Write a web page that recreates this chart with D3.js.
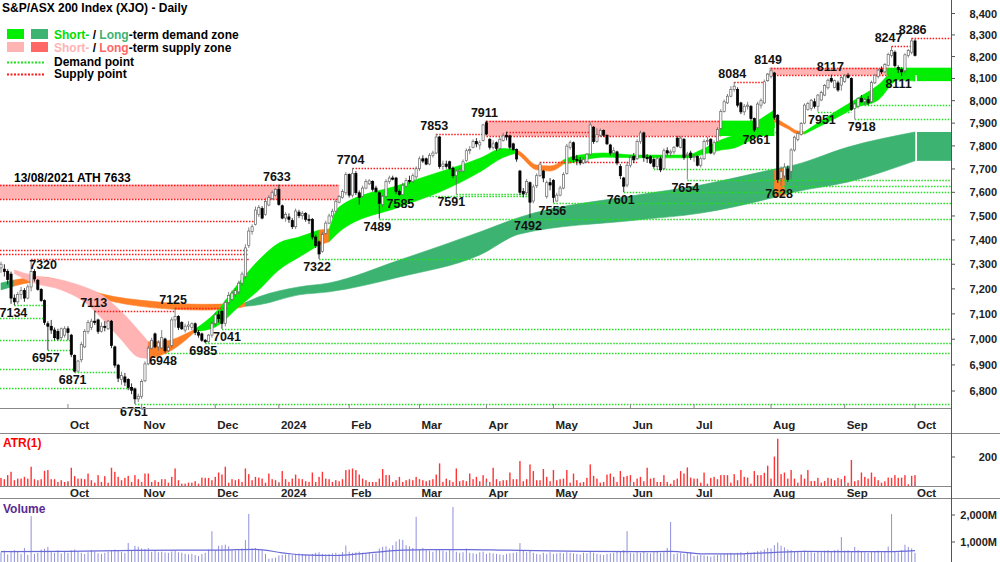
<!DOCTYPE html>
<html lang="en">
	<head>
		<meta charset="UTF-8" />
		<title>S&amp;P/ASX 200 Index (XJO) - Daily</title>
		<style>
			body { margin: 0; background: #fff; }
			svg { display: block; font-family: 'Liberation Sans', Arial, sans-serif; }
		</style>
	</head>
	<body>
		<svg id="svg" width="1000" height="562"></svg>

		<script src="https://d3js.org/d3.v7.min.js"></script>
		<script>
			// daily candles, one array per month: [open, high, low, close]
			const sep23 = [[7285,7310,7265,7300],[7280,7300,7250,7270],[7270,7280,7218,7238],[7260,7270,7140,7163],[7163,7178,7134,7148],[7148,7188,7138,7178],[7178,7208,7158,7193],[7193,7203,7148,7163],[7163,7218,7158,7208],[7208,7320,7190,7270],[7270,7280,7230,7240],[7235,7240,7193,7198],[7198,7203,7148,7153],[7153,7158,7056,7066],[7061,7071,6957,7051],[7051,7076,7021,7036],[7036,7046,6996,7006],[7031,7041,6996,7001],[7006,7046,6996,7041],[7016,7051,7006,7041]];
			const oct23 = [[7041,7051,6996,7026],[7016,7021,6930,6940],[6936,6941,6871,6876],[6876,6920,6875,6915],[6920,6990,6910,6980],[6970,7040,6965,7030],[7031,7076,7021,7066],[7046,7081,7036,7071],[7071,7113,7056,7066],[7076,7081,7021,7031],[7031,7066,7026,7051],[7051,7071,7031,7046],[7041,7076,7036,7071],[7071,7076,6965,6975],[6970,6975,6889,6899],[6899,6904,6834,6849],[6844,6874,6824,6859],[6854,6869,6819,6834],[6844,6849,6803,6813],[6813,6829,6788,6803],[6808,6813,6751,6770],[6770,6790,6758,6780]];
			const nov23 = [[6780,6845,6770,6836],[6839,6914,6834,6904],[6904,6975,6899,6965],[6965,7006,6960,6996],[7021,7026,6965,6970],[6970,6996,6955,6986],[6966,7036,6960,7006],[7001,7006,6948,6955],[6955,6975,6950,6968],[6976,7086,6966,7076],[7076,7125,7046,7090],[7090,7095,7036,7046],[7066,7071,7036,7041],[7036,7061,7026,7051],[7051,7071,7036,7056],[7046,7066,7036,7061],[7061,7066,7016,7026],[7026,7036,7006,7016],[7021,7026,6990,6996],[6996,7001,6985,6990],[6990,7021,6986,7016],[7016,7071,7006,7061]];
			const dec23 = [[7061,7106,7051,7096],[7096,7111,7066,7081],[7110,7115,7041,7062],[7062,7156,7050,7146],[7146,7188,7138,7173],[7158,7193,7153,7183],[7178,7203,7168,7193],[7188,7233,7178,7223],[7223,7270,7213,7260],[7250,7382,7240,7367],[7377,7452,7367,7437],[7435,7465,7422,7455],[7465,7540,7460,7525],[7506,7546,7496,7536],[7531,7541,7486,7491],[7506,7576,7501,7561],[7546,7588,7541,7578],[7573,7608,7568,7598],[7588,7618,7583,7613]];
			const jan24 = [[7613,7633,7543,7548],[7543,7548,7486,7491],[7491,7516,7476,7506],[7496,7511,7471,7486],[7481,7491,7445,7455],[7455,7531,7445,7521],[7516,7526,7491,7501],[7501,7521,7486,7511],[7511,7516,7476,7486],[7486,7506,7466,7481],[7486,7491,7402,7412],[7412,7422,7367,7377],[7392,7397,7322,7342],[7352,7432,7347,7422],[7427,7480,7422,7470],[7470,7510,7465,7500],[7500,7530,7490,7520],[7520,7572,7515,7562],[7558,7588,7553,7583],[7578,7613,7573,7603],[7598,7686,7588,7676]];
			const feb24 = [[7676,7681,7578,7588],[7588,7704,7578,7681],[7681,7691,7588,7598],[7598,7608,7548,7578],[7583,7628,7578,7618],[7618,7656,7613,7646],[7636,7656,7631,7649],[7646,7651,7603,7613],[7618,7628,7598,7603],[7598,7603,7489,7553],[7548,7588,7538,7583],[7583,7656,7578,7646],[7646,7671,7636,7661],[7661,7671,7651,7656],[7661,7666,7593,7603],[7603,7613,7585,7590],[7590,7641,7588,7630],[7626,7661,7621,7651],[7651,7671,7636,7646],[7646,7681,7641,7671],[7666,7711,7656,7701]];
			const mar24 = [[7701,7754,7691,7744],[7744,7759,7726,7734],[7744,7749,7716,7721],[7721,7769,7716,7759],[7759,7779,7749,7769],[7769,7853,7764,7839],[7839,7844,7701,7711],[7711,7736,7696,7721],[7721,7736,7701,7711],[7731,7736,7696,7703],[7703,7711,7661,7671],[7671,7696,7591,7691],[7691,7706,7681,7696],[7691,7741,7686,7731],[7736,7789,7731,7779],[7779,7799,7764,7784],[7794,7829,7789,7819],[7819,7834,7794,7809],[7804,7824,7784,7814],[7824,7897,7819,7892]];
			const apr24 = [[7902,7911,7847,7852],[7829,7834,7784,7794],[7794,7824,7784,7809],[7814,7819,7779,7789],[7789,7839,7784,7829],[7824,7857,7819,7844],[7847,7862,7824,7839],[7844,7849,7784,7794],[7809,7814,7779,7784],[7784,7789,7731,7743],[7691,7696,7588,7600],[7603,7618,7578,7593],[7598,7656,7588,7646],[7641,7646,7492,7558],[7563,7633,7553,7623],[7628,7681,7618,7671],[7671,7731,7666,7721],[7691,7696,7643,7661],[7583,7651,7573,7641],[7641,7661,7608,7631]];
			const may24 = [[7651,7656,7556,7578],[7563,7598,7560,7588],[7588,7628,7583,7618],[7618,7686,7613,7676],[7681,7809,7676,7799],[7794,7824,7784,7814],[7814,7819,7731,7741],[7741,7761,7716,7736],[7736,7751,7716,7726],[7726,7751,7721,7741],[7731,7769,7726,7764],[7764,7907,7759,7892],[7882,7887,7809,7819],[7819,7877,7814,7849],[7847,7877,7839,7867],[7867,7872,7839,7847],[7847,7849,7804,7809],[7804,7809,7759,7769],[7769,7794,7754,7779],[7774,7779,7716,7726],[7711,7721,7656,7671],[7661,7666,7601,7626],[7631,7731,7621,7716]];
			const jun24 = [[7716,7759,7706,7749],[7754,7769,7726,7739],[7744,7829,7739,7819],[7819,7867,7809,7857],[7857,7862,7731,7749],[7749,7764,7726,7744],[7754,7759,7721,7726],[7741,7749,7701,7711],[7711,7754,7696,7744],[7744,7754,7686,7696],[7701,7789,7696,7779],[7779,7794,7759,7769],[7769,7784,7754,7774],[7774,7799,7764,7794],[7834,7844,7794,7799],[7794,7844,7789,7834],[7829,7834,7739,7749],[7759,7774,7654,7764],[7769,7779,7739,7749]];
			const jul24 = [[7749,7764,7731,7754],[7754,7759,7711,7716],[7716,7754,7706,7744],[7744,7829,7739,7819],[7819,7839,7804,7824],[7829,7834,7764,7769],[7769,7824,7759,7814],[7819,7882,7814,7872],[7877,7962,7872,7952],[7952,8005,7947,7995],[7990,8030,7985,8020],[8020,8065,8015,8050],[8050,8084,8040,8065],[8050,8060,7970,7980],[7990,7995,7940,7950],[7950,7985,7935,7975],[7975,7995,7960,7980],[7975,7980,7910,7920],[7920,7925,7861,7870],[7880,7995,7870,7985],[7980,8010,7965,8000],[7990,8095,7985,8085],[8090,8125,8085,8120]];
			const aug24 = [[8110,8149,8100,8135],[8125,8130,7915,7925],[7935,7940,7640,7655],[7660,7711,7628,7690],[7670,7725,7660,7708],[7700,7715,7645,7655],[7690,7790,7655,7782],[7782,7845,7775,7838],[7828,7862,7820,7855],[7850,7905,7845,7898],[7900,7988,7895,7980],[7960,7995,7955,7988],[7965,8008,7955,8002],[7995,8010,7965,7975],[7975,8030,7951,8025],[8003,8045,7998,8036],[8025,8075,8020,8068],[8058,8100,8050,8092],[8100,8117,8080,8088],[8060,8095,8055,8090],[8080,8090,8040,8048],[8070,8110,8045,8104]];
			const sep24 = [[8086,8120,8080,8112],[8115,8125,8100,8105],[8100,8105,7955,7960],[7965,7990,7918,7985],[7975,8015,7965,8010],[8010,8025,7990,7995],[7995,8012,7980,8005],[8005,8020,7980,7990],[7995,8090,7990,8082],[8080,8120,8075,8115],[8110,8145,8100,8138],[8140,8155,8120,8130],[8130,8170,8125,8163],[8160,8218,8155,8210],[8205,8247,8195,8228],[8220,8228,8150,8158],[8150,8160,8125,8140],[8140,8150,8111,8130],[8135,8215,8125,8208],[8205,8235,8195,8228],[8220,8286,8210,8272]];
			const oct24 = [[8272,8280,8200,8205]];

			// ATR(1), points, one per day
			const atr = [56,47,75,98,40,51,51,63,51,133, 47,40,47,105,110,47,47,28,40,28, 33,126,68,51,51,47,86,40,23,75, 28,68,23,126,98,63,40,56,70,28,
				75,47,28,86,86,28,40,28,47,47, 23,63,121,40,16,16,23,23,33,16, 58,56,56,40,63,93,79,133,23,47, 40,47,28,121,82,40,63,58,51,23,
				86,47,40,23,103,47,28,51,79,51, 47,33,28,93,28,63,98,51,47,28, 40,33,47,110,114,121,110,79,51,40, 28,28,28,51,117,75,75,28,40,63,
				28,40,47,40,63,47,40,33,40,47, 79,156,28,51,40,28,121,33,40,33, 86,47,63,33,75,51,28,126,47,
				33,40,40,93,47,47,172,33,47,149, 103,40,40,117,63,33,110,40,47,51, 110,23,86,40,23,28,56,149,70,51, 23,28,79,86,63,28,103,63,70,75,
				28,51,63,33,126,51,56,28,28,75, 28,16,40,51,103,86,128,58,51,51, 23,93,16,56,63,47,75,75,75,23, 82,40,110,63,58,16,103,75,75,91,
				140,51,203,326,82,93,51,110,51,23, 79,51,110,33,35,56,23,35,56,51, 40,56,47,70,23,179,33,40,93,63, 51,93,63,40,23,33,58,56,75,56,
				58,75,12,70,75];

			// volume, millions, one per day
			const volume = [620,680,540,650,700,640,560,780,520,1960,560,600,720,750,820,640,600,700,580,640,
				600,690,720,640,600,560,620,700,650,580,560,600,640,690,720,700,640,600,960,700,860,820,
				760,740,770,640,700,620,640,610,600,650,680,620,600,560,540,560,520,480,560,600,720,1400,
				700,860,880,900,840,720,680,700,760,1070,2040,760,780,720,700,560,380,400,420,
				500,520,540,560,520,560,580,560,540,520,560,600,620,560,540,560,580,600,540,620,870,
				640,600,620,640,600,560,620,560,580,760,820,840,760,880,1020,1100,1080,880,840,780,1930,
				720,780,700,680,640,720,700,680,640,700,2300,640,600,620,760,600,580,560,620,640,
				560,600,580,560,540,520,560,580,600,620,960,700,620,680,600,560,540,600,560,620,
				560,580,600,580,620,600,580,560,540,600,580,640,600,560,540,520,560,580,600,640,660,700,1400,
				600,580,620,600,640,600,580,620,640,600,620,780,1740,560,580,600,560,600,620,
				480,500,520,500,480,460,500,520,540,560,580,600,560,600,620,580,640,600,620,660,680,720,780,
				760,880,980,860,800,720,700,660,640,620,680,640,620,600,640,620,680,700,660,700,720,1180,
				680,700,640,820,700,640,620,600,640,660,680,620,640,830,2030,640,620,700,900,820,760,
				600];
			// volume average, sampled [day, millions]
			const volumeAvg = [[0,640],[20,650],[40,690],[55,700],[65,700],[76,730],[84,600],[90,520],[100,500],[110,600],[120,700],[128,720],[140,720],[150,700],[160,680],[175,650],[190,640],[200,650],[210,560],[220,560],[230,610],[240,650],[255,640],[265,640],[273,680]];

			// long-term band [day, top, bottom]
			const ltGreenA = [[0,7224,7196],[4,7236,7212]];
			const ltOrangeA = [[4,7236,7212],[12,7248,7230],[20,7225,7205],[30,7180,7160],[45,7150,7125],[60,7138,7115],[70,7140,7122],[73,7145,7130]];
			const ltGreenB = [[73,7145,7130],[77,7168,7136],[89,7208,7176],[98,7224,7188],[119,7317,7248],[143,7433,7338],[155,7495,7425],[190,7588,7483],[209,7631,7512],[230,7696,7575],[237,7717,7601],[253,7795,7644],[273,7861,7735]];
			const ltOrangeB = [[231,7696,7580],[234,7702,7586]];
			// short-term band [day, top, bottom]
			const stPink = [[4,7277,7262],[9,7256,7228],[18,7236,7196],[24,7212,7156],[30,7176,7084],[36,7108,6997],[41,7036,6931],[44,6990,6925]];
			const stOrangeA = [[44,6990,6925],[50,6995,6950],[55,7020,6995],[58,7040,7030]];
			const stGreenA = [[58,7040,7030],[64,7104,7048],[71,7224,7128],[77,7317,7196],[83,7387,7277],[89,7412,7329],[95,7441,7379]];
			const stOrangeB = [[95,7441,7379],[98,7445,7392]];
			const stGreenB = [[98,7445,7392],[101,7538,7433],[119,7631,7538],[131,7687,7601],[143,7746,7687],[150,7789,7750],[154,7782,7769]];
			const stOrangeC = [[154,7782,7769],[155,7775,7757],[160,7717,7696],[164,7713,7691],[168,7739,7721]];
			const stGreenC = [[168,7739,7721],[170,7751,7726],[180,7769,7751],[190,7760,7748],[205,7760,7748],[209,7782,7760],[215,7826,7782],[219,7848,7791],[224,7892,7826],[231,7958,7880]];
			const stOrangeD = [[231,7925,7905],[235,7890,7875],[238,7865,7852],[240,7862,7852]];
			const stGreenD = [[240,7862,7852],[250,7958,7927],[255,8003,7967],[262,8070,8003],[268,8148,8093],[273,8140,8088]];

			// zones [fromDay, toDay (-1 = right edge), top, bottom]
			const supplyZones = [[0,101,7633,7570],[145,215,7911,7843],[230,265,8149,8115]];
			const demandZones = [[215,231,7911,7843],[265,-1,8149,8115]];
			// dotted points [price, fromDay, toDay (-1 = right edge)]
			const supplyPoints = [[7480,0,76],[7358,0,74],[7340,0,74],[7320,9,74],[7113,28,52],[7125,52,68],[7704,105,125],[7853,130,144],[7862,151,176],[7731,161,190],[8084,219,228],[8247,266,272],[8286,272,-1]];
			const demandPoints = [[7084,0,13],[6997,0,21],[6885,0,22],[6811,0,40],[7134,4,13],[6957,14,21],[6871,22,35],[6751,40,-1],[6948,49,-1],[6985,61,-1],[7041,66,-1],[7322,95,-1],[7489,113,-1],[7585,119,158],[7591,136,158],[7556,165,-1],[7601,186,-1],[7701,195,232],[7654,205,-1],[7861,225,232],[7628,233,-1],[7951,244,254],[7918,255,-1],[7980,258,-1],[8111,269,-1]];
			// swing labels [value, day, 'h' | 'l', dx, dy]
			const swings = [[7134,4,'l',-1,0],[7320,9,'h',12,14],[6957,14,'l',-2,0],[6871,22,'l',-2,0],[7113,28,'h',-1,0],[6751,40,'l',-1,0],[6948,49,'l',-2,0],[7125,52,'h',-2,0],[6985,61,'l',-2,0],[7041,66,'l',5,0],[7633,83,'h',-2,0],[7322,95,'l',-2,0],[7704,105,'h',-2,0],[7489,113,'l',-2,0],[7585,119,'l',1,0],[7853,130,'h',-2,0],[7591,136,'l',-5,0],[7911,145,'h',-2,0],[7492,158,'l',-2,0],[7556,165,'l',-1,0],[7601,186,'l',-3,0],[7654,205,'l',-2,0],[8084,219,'h',-2,0],[7861,225,'l',2,0],[8149,230,'h',-3,0],[7628,233,'l',-2,0],[7951,244,'l',4,0],[8117,248,'h',-1,0],[7918,255,'l',7,0],[8247,266,'h',-3,0],[8111,269,'l',-3,0],[8286,272,'h',1,0]];

			const priceTicks = [6800,6900,7000,7100,7200,7300,7400,7500,7600,7700,7800,7900,8000,8100,8200,8300,8400];
			const monthLabels = ['Oct','Nov','Dec','2024','Feb','Mar','Apr','May','Jun','Jul','Aug','Sep','Oct'];
			const holidays = ['2023-12-25','2023-12-26','2024-01-01','2024-01-26','2024-03-29','2024-04-01','2024-04-25','2024-06-10'];

			// trading calendar
			const days = [];
			for (let t = Date.UTC(2023, 8, 4); t <= Date.UTC(2024, 9, 1); t += 864e5) {
				const d = new Date(t);
				const wd = d.getUTCDay();
				if (wd === 0 || wd === 6 || holidays.includes(d.toISOString().slice(0, 10))) continue;
				days.push(d);
			}

			const candles = [sep23, oct23, nov23, dec23, jan24, feb24, mar24, apr24, may24, jun24, jul24, aug24, sep24, oct24]
				.flat()
				.map((d, i) => ({ i, date: days[i], o: d[0], h: d[1], l: d[2], c: d[3] }));
			const last = candles.length - 1;
			const monthStarts = candles.filter((d, i) => i > 0 && d.date.getUTCMonth() !== candles[i - 1].date.getUTCMonth());

			const axisX = 951;
			const x = d3.scaleLinear().domain([0, last]).range([1, 915]);
			const xs = (i) => (i < 0 ? axisX : x(i));
			const y = d3.scaleLog().domain([6800, 8400]).range([391, 13.5]);
			const yAtr = d3.scaleLinear().domain([0, 200]).range([486, 457]);
			const yVol = d3.scaleLinear().domain([0, 2000]).range([569, 515]);

			const GREEN = '#00ee00', DARK = '#3cb371', PINK = '#ffb3b3', RED = '#ff6666', ORANGE = '#ff7f27';

			const svg = d3.select('#svg');
			const defs = svg.append('defs');
			defs.append('clipPath').attr('id', 'main').append('rect').attr('width', axisX).attr('height', 408);
			defs.append('clipPath').attr('id', 'vol').append('rect').attr('y', 499).attr('width', axisX).attr('height', 63);

			const g = svg.append('g').attr('clip-path', 'url(#main)');

			// zones
			const half = 1.7;
			const zone = (list, fill) => {
				list.forEach(([a, b, top, bot]) => {
					const x0 = a === 0 ? 0 : x(a) - half;
					g.append('rect')
						.attr('x', x0)
						.attr('y', y(top))
						.attr('width', xs(b) - x0)
						.attr('height', y(bot) - y(top))
						.attr('fill', fill);
				});
			};
			zone(supplyZones, PINK);
			zone(demandZones, GREEN);

			// bands
			const area = d3
				.area()
				.x((d) => x(d[0]))
				.y0((d) => y(d[2]))
				.y1((d) => y(d[1]))
				.curve(d3.curveMonotoneX);
			[[ltGreenA, DARK], [ltOrangeA, ORANGE], [ltGreenB, DARK], [ltOrangeB, ORANGE],
				[stPink, PINK], [stOrangeA, ORANGE], [stGreenA, GREEN], [stOrangeB, ORANGE], [stGreenB, GREEN],
				[stOrangeC, ORANGE], [stGreenC, GREEN], [stOrangeD, ORANGE], [stGreenD, GREEN]].forEach(([pts, fill]) => {
				g.append('path').attr('d', area(pts)).attr('fill', fill).attr('stroke', fill).attr('stroke-width', 0.6);
			});
			// projections to the right edge
			const lastLt = ltGreenB[ltGreenB.length - 1];
			const lastSt = stGreenD[stGreenD.length - 1];
			[[lastLt, DARK], [lastSt, GREEN]].forEach(([p, fill]) => {
				g.append('rect')
					.attr('x', x(last) + 2)
					.attr('y', y(p[1]))
					.attr('width', axisX - x(last) - 2)
					.attr('height', y(p[2]) - y(p[1]))
					.attr('fill', fill);
			});

			// dotted lines
			const dotted = (price, a, b, color) => {
				g.append('line')
					.attr('x1', a === 0 ? 0 : x(a))
					.attr('x2', xs(b))
					.attr('y1', Math.round(y(price)) + 0.5)
					.attr('y2', Math.round(y(price)) + 0.5)
					.attr('stroke', color)
					.attr('stroke-width', 1.4)
					.attr('stroke-dasharray', '1.5,1.5');
			};
			supplyZones.forEach(([a, b, top, bot]) => {
				dotted(top, a, b, '#ff1a1a');
				dotted(bot, a, b, '#ff1a1a');
			});
			supplyPoints.forEach(([p, a, b]) => dotted(p, a, b, '#ff1a1a'));
			demandPoints.forEach(([p, a, b]) => dotted(p, a, b, '#22dd22'));

			// candles
			const bw = 2.2;
			const cg = g.selectAll('g.candle').data(candles).enter().append('g');
			cg.append('line')
				.attr('x1', (d) => x(d.i))
				.attr('x2', (d) => x(d.i))
				.attr('y1', (d) => y(d.h))
				.attr('y2', (d) => y(d.l))
				.attr('stroke', (d) => (d.c >= d.o ? '#666' : '#000'))
				.attr('stroke-width', 0.8);
			cg.append('rect')
				.attr('x', (d) => x(d.i) - bw / 2)
				.attr('width', bw)
				.attr('y', (d) => y(Math.max(d.o, d.c)))
				.attr('height', (d) => Math.max(1, y(Math.min(d.o, d.c)) - y(Math.max(d.o, d.c))))
				.attr('fill', (d) => (d.c >= d.o ? '#fff' : '#000'))
				.attr('stroke', (d) => (d.c >= d.o ? '#666' : '#000'))
				.attr('stroke-width', 0.7);

			// swing labels (not clipped, the lowest one sits under the panel edge)
			const lab = svg.append('g');
			swings.forEach(([v, i, side, dx, dy]) => {
				lab.append('text')
					.attr('x', x(i) + dx)
					.attr('y', (side === 'h' ? y(v) - 4 : y(v) + 12) + dy)
					.attr('text-anchor', 'middle')
					.style('font-size', '12.5px')
					.style('font-weight', 'bold')
					.attr('fill', '#111')
					.text(v);
			});
			lab.append('text')
				.attr('x', 14)
				.attr('y', 182)
				.style('font-size', '12px')
				.style('font-weight', 'bold')
				.text('13/08/2021 ATH 7633');

			// ATR panel
			svg.append('g')
				.selectAll('rect')
				.data(candles)
				.enter()
				.append('rect')
				.attr('x', (d) => x(d.i) - 0.7)
				.attr('width', 1.4)
				.attr('y', (d) => yAtr(atr[d.i]))
				.attr('height', (d) => yAtr(0) - yAtr(atr[d.i]))
				.attr('fill', '#ff3333');

			// volume panel
			const vg = svg.append('g').attr('clip-path', 'url(#vol)');
			vg.selectAll('line')
				.data(candles)
				.enter()
				.append('line')
				.attr('x1', (d) => x(d.i))
				.attr('x2', (d) => x(d.i))
				.attr('y1', yVol(0))
				.attr('y2', (d) => yVol(volume[d.i]))
				.attr('stroke', '#8f8fdc')
				.attr('stroke-width', 1);
			vg.append('path')
				.attr('d', d3.line().x((d) => x(d[0])).y((d) => yVol(d[1])).curve(d3.curveMonotoneX)(volumeAvg))
				.attr('fill', 'none')
				.attr('stroke', '#6a6ad8')
				.attr('stroke-width', 1.2);

			// frames
			const frame = svg.append('g').attr('stroke', '#888').attr('stroke-width', 1);
			frame.append('line').attr('x1', 0).attr('x2', axisX).attr('y1', 408.5).attr('y2', 408.5);
			frame.append('line').attr('x1', 0).attr('x2', 1000).attr('y1', 433.5).attr('y2', 433.5);
			frame.append('line').attr('x1', 0).attr('x2', axisX).attr('y1', 486.5).attr('y2', 486.5);
			frame.append('line').attr('x1', 0).attr('x2', 1000).attr('y1', 498.5).attr('y2', 498.5);
			frame.append('line').attr('x1', axisX + 0.5).attr('x2', axisX + 0.5).attr('y1', 0).attr('y2', 562).attr('stroke', '#555');

			// month ticks and labels
			[408, 486].forEach((base, k) => {
				monthStarts.forEach((d, j) => {
					frame.append('line').attr('x1', x(d.i)).attr('x2', x(d.i)).attr('y1', base).attr('y2', base - 4);
					svg.append('text')
						.attr('x', x(d.i) + 2)
						.attr('y', base + (k === 0 ? 21 : 11))
						.style('font-size', '11.5px')
						.style('font-weight', 'bold')
						.attr('fill', '#222')
						.text(monthLabels[j]);
				});
			});

			// right axes
			const rightLabel = (yy, txt) => {
				frame.append('line').attr('x1', axisX).attr('x2', axisX + 4).attr('y1', yy).attr('y2', yy).attr('stroke', '#555');
				svg.append('text')
					.attr('x', 997)
					.attr('y', yy + 4)
					.attr('text-anchor', 'end')
					.style('font-size', '11px')
					.style('font-weight', 'bold')
					.attr('fill', '#222')
					.text(txt);
			};
			priceTicks.forEach((p) => rightLabel(y(p), d3.format(',')(p)));
			rightLabel(yAtr(200), '200');
			rightLabel(yVol(2000), '2,000M');
			rightLabel(yVol(1000), '1,000M');

			// panel titles
			svg.append('text').attr('x', 3).attr('y', 447).style('font-size', '12px').style('font-weight', 'bold').attr('fill', '#ff0000').text('ATR(1)');
			svg.append('text').attr('x', 3).attr('y', 513).style('font-size', '12px').style('font-weight', 'bold').attr('fill', '#5b2a92').text('Volume');

			// title and legend
			const lg = svg.append('g').style('font-weight', 'bold').style('font-size', '12px');
			lg.append('text').attr('x', 2).attr('y', 12).text('S&P/ASX 200 Index (XJO) - Daily');
			[[GREEN, DARK, 35, '#00dd00', DARK, 'demand'], [PINK, RED, 48, PINK, RED, 'supply']].forEach(([a, b, yy, c1, c2, kind]) => {
				lg.append('rect').attr('x', 7).attr('y', yy - 6).attr('width', 17).attr('height', 10).attr('fill', a);
				lg.append('rect').attr('x', 31).attr('y', yy - 6).attr('width', 17).attr('height', 10).attr('fill', b);
				const t = lg.append('text').attr('x', 54).attr('y', yy + 4);
				t.append('tspan').attr('fill', c1).text('Short-');
				t.append('tspan').attr('fill', '#000').text(' / ');
				t.append('tspan').attr('fill', c2).text('Long');
				t.append('tspan').attr('fill', '#000').text('-term ' + kind + ' zone');
			});
			[['#22dd22', 62, 'Demand point'], ['#ff1a1a', 74, 'Supply point']].forEach(([col, yy, txt]) => {
				lg.append('line')
					.attr('x1', 7).attr('x2', 44).attr('y1', yy + 0.5).attr('y2', yy + 0.5)
					.attr('stroke', col).attr('stroke-width', 2).attr('stroke-dasharray', '2,1.5');
				lg.append('text').attr('x', 54).attr('y', yy + 4).text(txt);
			});
		</script>
	</body>
</html>
